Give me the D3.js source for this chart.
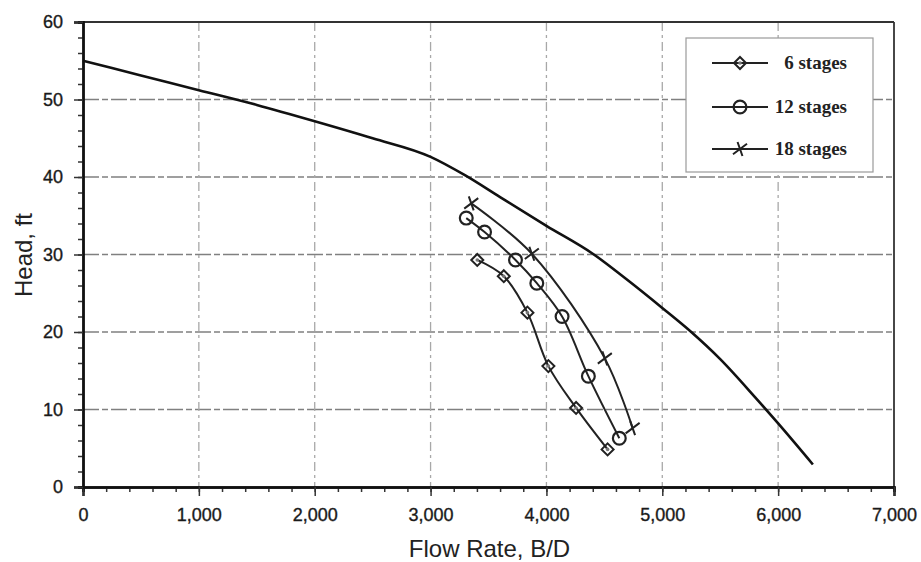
<!DOCTYPE html>
<html>
<head>
<meta charset="utf-8">
<script src="https://cdn.jsdelivr.net/npm/d3@7"></script>
<style>
  html, body { margin: 0; padding: 0; background: #fff; }
  svg { display: block; }
</style>
</head>
<body>
<svg id="chart" width="921" height="562"></svg>
<script>
// Pump head curve (single stage performance)
const mainFlow = [0, 500, 1000, 1500, 2000, 2500, 3000, 3300, 3600, 4000, 4400, 4700, 5000, 5250, 5500, 5800, 6000, 6300];
const mainHead = [55.0, 53.1, 51.2, 49.3, 47.2, 45.0, 42.6, 40.2, 37.4, 33.7, 30.1, 26.7, 23.1, 20.0, 16.5, 11.6, 8.2, 2.9];

// Measured points for each stage count
const stage6Flow  = [3403, 3632, 3836, 4017, 4256, 4528];
const stage6Head  = [29.3, 27.2, 22.5, 15.6, 10.2, 4.85];
const stage12Flow = [3308, 3466, 3733, 3917, 4135, 4362, 4629];
const stage12Head = [34.7, 32.9, 29.3, 26.3, 22.0, 14.3, 6.3];
const stage18Flow = [3351, 3874, 4504, 4744];
const stage18Head = [36.6, 30.1, 16.6, 7.6];

const seriesNames = ["6 stages", "12 stages", "18 stages"];
const xTicks = [0, 1000, 2000, 3000, 4000, 5000, 6000, 7000];
const yTicks = [0, 10, 20, 30, 40, 50, 60];
const xTitle = "Flow Rate, B/D";
const yTitle = "Head, ft";

const svg = d3.select("#chart");
const plotL = 83, plotR = 894, plotT = 22, plotB = 487;

const x = d3.scaleLinear().domain([0, 7000]).range([plotL, plotR]);
const y = d3.scaleLinear().domain([0, 60]).range([plotB, plotT]);

// grid lines
const grid = svg.append("g");
grid.selectAll("line.hg").data(yTicks.slice(1, -1)).join("line")
  .attr("x1", plotL).attr("x2", plotR)
  .attr("y1", d => y(d)).attr("y2", d => y(d))
  .attr("stroke", "#808080").attr("stroke-width", 1.7)
  .attr("stroke-dasharray", "16,3,6,3");
grid.selectAll("line.vg").data(xTicks.slice(1, -1)).join("line")
  .attr("y1", plotT).attr("y2", plotB)
  .attr("x1", d => x(d)).attr("x2", d => x(d))
  .attr("stroke", "#a8a8a8").attr("stroke-width", 1.3)
  .attr("stroke-dasharray", "9,4,3,4");

// frame: top and right
svg.append("line").attr("x1", plotL).attr("x2", plotR).attr("y1", plotT).attr("y2", plotT)
  .attr("stroke", "#333").attr("stroke-width", 1.8);
svg.append("line").attr("x1", plotR).attr("x2", plotR).attr("y1", plotT).attr("y2", plotB)
  .attr("stroke", "#333").attr("stroke-width", 1.8);

// axes
const fmt = d3.format(",");
const xAxisMinor = d3.axisBottom(x).tickValues(d3.range(0, 7001, 200)).tickSize(5).tickFormat("");
const xAxis = d3.axisBottom(x).tickValues(xTicks).tickSize(9).tickPadding(12).tickFormat(fmt);
const yAxisMinor = d3.axisLeft(y).tickValues(d3.range(0, 61, 2)).tickSize(5).tickFormat("");
const yAxis = d3.axisLeft(y).tickValues(yTicks).tickSize(9).tickPadding(11);

function styleAxis(g) {
  g.select(".domain").attr("stroke", "#111").attr("stroke-width", 2.4);
  g.selectAll(".tick line").attr("stroke", "#333").attr("stroke-width", 1.5);
  g.selectAll("text").attr("font-family", "'Liberation Sans', Arial, sans-serif")
    .attr("font-size", 18).attr("fill", "#1a1a1a")
    .attr("stroke", "#1a1a1a").attr("stroke-width", 0.35);
}
svg.append("g").attr("transform", `translate(0,${plotB})`).call(xAxisMinor).call(styleAxis);
svg.append("g").attr("transform", `translate(0,${plotB})`).call(xAxis).call(styleAxis);
svg.append("g").attr("transform", `translate(${plotL},0)`).call(yAxisMinor).call(styleAxis);
svg.append("g").attr("transform", `translate(${plotL},0)`).call(yAxis).call(styleAxis);

// axis titles
svg.append("text").attr("x", (plotL + plotR) / 2 + 1).attr("y", 557)
  .attr("text-anchor", "middle")
  .attr("font-family", "'Liberation Sans', Arial, sans-serif").attr("font-size", 24)
  .attr("fill", "#222").text(xTitle);
svg.append("text").attr("transform", "translate(32,255) rotate(-90)")
  .attr("text-anchor", "middle")
  .attr("font-family", "'Liberation Sans', Arial, sans-serif").attr("font-size", 24)
  .attr("fill", "#222").text(yTitle);

// curves
const line = d3.line().x(d => x(d[0])).y(d => y(d[1])).curve(d3.curveCatmullRom.alpha(0.5));
const smoothLine = d3.line().x(d => x(d[0])).y(d => y(d[1])).curve(d3.curveMonotoneX);
const zip = (a, b) => a.map((v, i) => [v, b[i]]);

svg.append("path").datum(zip(mainFlow, mainHead))
  .attr("d", smoothLine).attr("fill", "none").attr("stroke", "#111").attr("stroke-width", 2.6);

const series = [
  { name: seriesNames[0], pts: zip(stage6Flow, stage6Head), marker: "diamond" },
  { name: seriesNames[1], pts: zip(stage12Flow, stage12Head), marker: "circle" },
  { name: seriesNames[2], pts: zip(stage18Flow, stage18Head), marker: "cross" }
];

function drawMarker(g, type, cx, cy) {
  if (type === "diamond") {
    const s = 6;
    g.append("path").attr("d", `M${cx},${cy - s}L${cx + s},${cy}L${cx},${cy + s}L${cx - s},${cy}Z`)
      .attr("fill", "none").attr("stroke", "#222").attr("stroke-width", 2);
    g.append("circle").attr("cx", cx).attr("cy", cy).attr("r", 1.8).attr("fill", "#777");
  } else if (type === "circle") {
    g.append("circle").attr("cx", cx).attr("cy", cy).attr("r", 6.4)
      .attr("fill", "none").attr("stroke", "#222").attr("stroke-width", 2.2);
  } else {
    const s = 7;
    g.append("path").attr("d", `M${cx - s},${cy + s * 0.75}L${cx + s},${cy - s * 0.75}M${cx - s * 0.35},${cy - s}L${cx + s * 0.35},${cy + s}`)
      .attr("fill", "none").attr("stroke", "#222").attr("stroke-width", 2);
  }
}

series.forEach(s => {
  svg.append("path").datum(s.pts).attr("d", line)
    .attr("fill", "none").attr("stroke", "#222").attr("stroke-width", 2);
  const g = svg.append("g");
  s.pts.forEach(p => drawMarker(g, s.marker, x(p[0]), y(p[1])));
});

// legend
const lg = svg.append("g");
lg.append("rect").attr("x", 686).attr("y", 38).attr("width", 187).attr("height", 134)
  .attr("fill", "#fff").attr("stroke", "#9a9a9a").attr("stroke-width", 1.2);
const rowY = [63, 107, 149];
series.forEach((s, i) => {
  lg.append("line").attr("x1", 712).attr("x2", 768).attr("y1", rowY[i]).attr("y2", rowY[i])
    .attr("stroke", "#222").attr("stroke-width", 2.2);
  drawMarker(lg, s.marker, 740, rowY[i]);
  lg.append("text").attr("x", 847).attr("y", rowY[i] + 6).attr("text-anchor", "end")
    .attr("font-family", "'Liberation Serif', 'Times New Roman', serif")
    .attr("font-size", 19).attr("font-weight", "bold").attr("fill", "#222").text(s.name);
});
</script>
</body>
</html>
